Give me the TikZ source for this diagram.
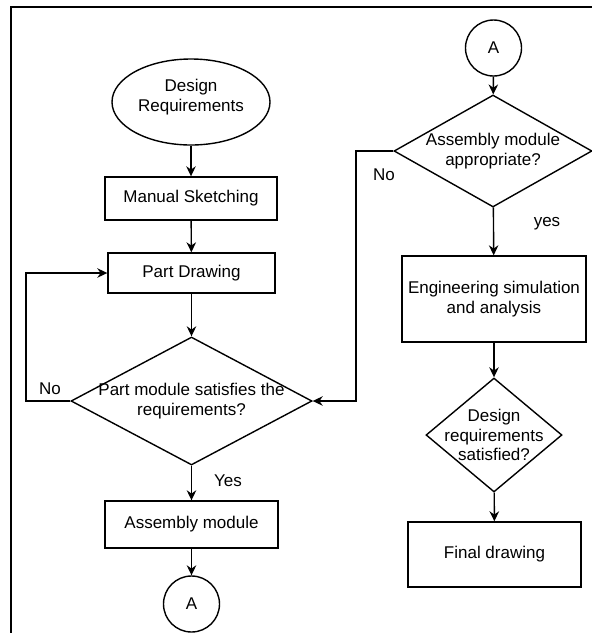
\documentclass[tikz,border=0pt]{standalone}
\usepackage{fontspec}
\setmainfont{Liberation Sans}
\usetikzlibrary{arrows.meta,shapes.geometric}
\tikzset{
  flowbox/.style={draw,line width=1.4pt,inner sep=0pt,align=center},
  termnode/.style={ellipse,draw,line width=1.4pt,inner sep=0pt},
  decision/.style={diamond,draw,line width=1.4pt,inner sep=0pt},
  linknode/.style={circle,draw,line width=1.4pt,minimum size=56pt,inner sep=0pt},
  qtext/.style={align=center,inner sep=0pt},
  flowarrow/.style={-{Stealth[length=10pt,width=9.5pt]},line width=1.4pt},
  framebox/.style={line width=1.8pt}
}
\begin{document}
\begin{tikzpicture}[x=1pt,y=-1pt,font=\fontsize{17}{19.5}\selectfont]
\useasboundingbox (0,0) rectangle (592,633);
\draw[framebox] (11,640) -- (11,7) -- (600,7);
% left column
\node[termnode,minimum width=158pt,minimum height=86pt] (dreq) at (191,102) {};
\node[qtext,yshift=5pt] (dreqtxt) at (dreq) {Design\\Requirements};
\node[flowbox,minimum width=172pt,minimum height=43pt] (sketch) at (191,198.5) {Manual Sketching};
\node[flowbox,minimum width=167pt,minimum height=40pt] (pdraw) at (191.5,273) {Part Drawing};
\node[decision,minimum width=241pt,minimum height=128pt] (pmod) at (191.5,401) {};
\node[qtext] (pmodtxt) at (pmod) {Part module satisfies the\\requirements?};
\node[flowbox,minimum width=173pt,minimum height=47pt] (asmb) at (191.5,524.5) {Assembly module};
\node[linknode] (linkA) at (191.5,604) {A};
% right column
\node[linknode] (linkB) at (493.5,48) {A};
\node[decision,minimum width=198pt,minimum height=112pt] (amod) at (493,151) {};
\node[qtext] (amodtxt) at (amod) {Assembly module\\appropriate?};
\node[flowbox,minimum width=184pt,minimum height=86pt] (engsim) at (494,299) {Engineering simulation\\and analysis};
\node[decision,minimum width=136pt,minimum height=114pt] (dsat) at (494,435) {};
\node[qtext] (dsattxt) at (dsat) {Design\\requirements\\satisfied?};
\node[flowbox,minimum width=173pt,minimum height=65pt] (fdraw) at (494.5,554.5) {Final drawing};
% loop corners
\coordinate (loopL) at (26,401);
\coordinate (loopR) at (356,151);
\draw[flowarrow] (dreq) -- (sketch);
\draw[flowarrow] (sketch) -- (pdraw);
\draw[flowarrow] (pdraw) -- (pmod);
\draw[flowarrow] (pmod.west) -- (loopL) |- (pdraw.west);
\draw[flowarrow] (pmod) -- (asmb);
\draw[flowarrow] (asmb) -- (linkA);
\draw[flowarrow] (linkB) -- (amod);
\draw[flowarrow] (amod.west) -- (loopR) |- (pmod.east);
\draw[flowarrow] (amod) -- (engsim);
\draw[flowarrow] (engsim) -- (dsat);
\draw[flowarrow] (dsat) -- (fdraw);
\node (noL) at (50,389) {No};
\node (yesL) at (228,481) {Yes};
\node (noR) at (384,175) {No};
\node (yesR) at (547,224) {yes};
\end{tikzpicture}
\end{document}
